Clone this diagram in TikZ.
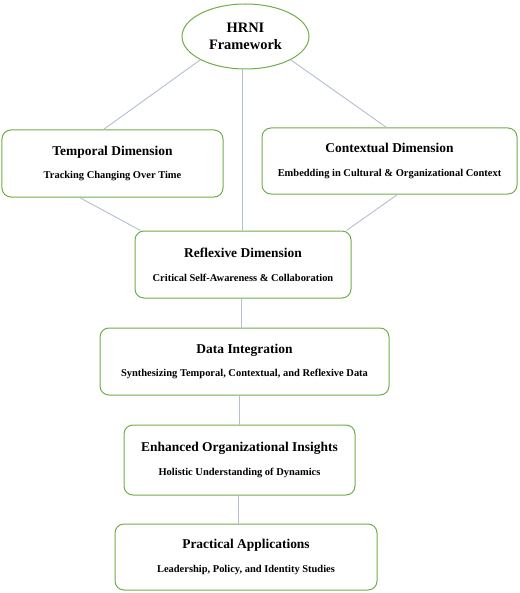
\documentclass[tikz,border=0pt]{standalone}
\usepackage{fontspec}
\setmainfont{Liberation Serif}
\usetikzlibrary{shapes.geometric}
\definecolor{boxgreen}{RGB}{112,173,71}
\definecolor{linkgray}{RGB}{178,190,210}
\newcommand{\boxtitle}[1]{{\fontsize{13.5}{16}\selectfont #1}}
\newcommand{\boxsub}[1]{{\fontsize{10.5}{13}\selectfont #1}}

\begin{document}
\begin{tikzpicture}[x=1bp,y=-1bp,
    dimbox/.style={draw=boxgreen,line width=1bp,rounded corners=9bp,minimum height=67bp,align=center,inner sep=0pt,font=\bfseries},
    link/.style={draw=linkgray,line width=0.9bp}]
      \useasboundingbox (0,0) rectangle (520,593);
      \node[draw=boxgreen,line width=1bp,ellipse,minimum width=127bp,minimum height=65bp,align=center,inner sep=0pt,font=\bfseries\fontsize{14.5}{17.5}\selectfont] (hrni) at (245.5,36.5) {HRNI\\Framework};
      \node[dimbox,minimum width=221bp] (temporal) at (112.5,163.5) {\boxtitle{Temporal Dimension}\\[12bp]\boxsub{Tracking Changing Over Time}};
      \node[dimbox,minimum width=255bp,minimum height=66bp] (contextual) at (389.5,161) {\boxtitle{Contextual Dimension}\\[12bp]\boxsub{Embedding in Cultural \& Organizational Context}};
      \node[dimbox,minimum width=216bp] (reflexive) at (243,264.5) {\boxtitle{Reflexive Dimension}\\[12bp]\boxsub{Critical Self-Awareness \& Collaboration}};
      \node[dimbox,minimum width=289bp] (data) at (244.5,361.5) {\boxtitle{Data Integration}\\[12bp]\boxsub{Synthesizing Temporal, Contextual, and Reflexive Data}};
      \node[dimbox,minimum width=231bp,minimum height=70bp] (insights) at (239.5,460) {\boxtitle{Enhanced Organizational Insights}\\[12bp]\boxsub{Holistic Understanding of Dynamics}};
      \node[dimbox,minimum width=262bp,minimum height=66bp] (practical) at (246,557) {\boxtitle{Practical Applications}\\[12bp]\boxsub{Leadership, Policy, and Identity Studies}};
% links
      \draw[link] (hrni.south west) -- ([xshift=-9bp]temporal.north);
      \draw[link] (hrni.south east) -- ([xshift=-3bp]contextual.north);
      \draw[link] ([xshift=-3bp]hrni.south) -- ([xshift=-3bp]hrni.south |- reflexive.north);
      \draw[link] ([xshift=-33bp]temporal.south) -- ([xshift=6bp]reflexive.north west);
      \draw[link] ([xshift=8bp]contextual.south) -- ([xshift=-5bp]reflexive.north east);
      \draw[link] ([xshift=-2bp]reflexive.south) -- ([xshift=-2bp]reflexive.south |- data.north);
      \draw[link] ([xshift=-5bp]data.south) -- ([xshift=-5bp]data.south |- insights.north);
      \draw[link] ([xshift=-1.5bp]insights.south) -- ([xshift=-1.5bp]insights.south |- practical.north);
\end{tikzpicture}
\end{document}
